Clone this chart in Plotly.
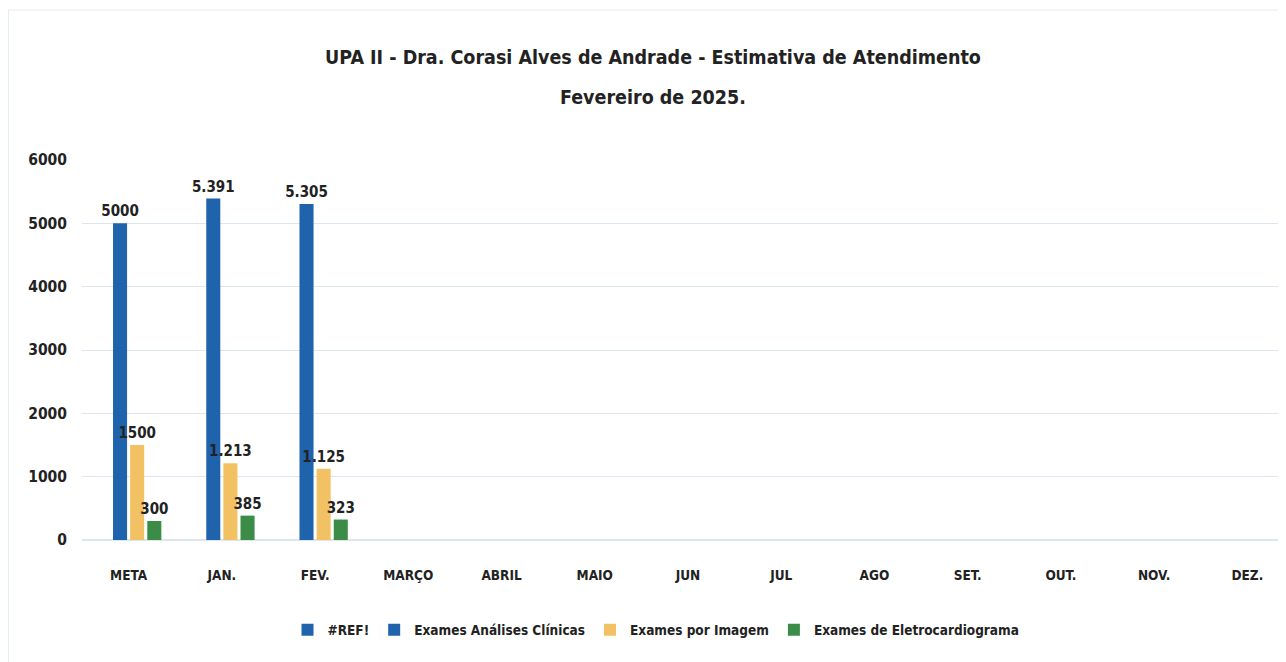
import plotly.graph_objects as go

categories = ["META", "JAN.", "FEV.", "MARÇO", "ABRIL", "MAIO", "JUN", "JUL", "AGO", "SET.", "OUT.", "NOV.", "DEZ."]
ref_values = [0, 0, 0, None, None, None, None, None, None, None, None, None, None]
analises = [5000, 5391, 5305, None, None, None, None, None, None, None, None, None, None]
analises_labels = ["5000", "5.391", "5.305"] + [""] * 10
imagem = [1500, 1213, 1125, None, None, None, None, None, None, None, None, None, None]
imagem_labels = ["1500", "1.213", "1.125"] + [""] * 10
eletro = [300, 385, 323, None, None, None, None, None, None, None, None, None, None]
eletro_labels = ["300", "385", "323"] + [""] * 10
y_ticks = [0, 1000, 2000, 3000, 4000, 5000, 6000]

FONT = "DejaVu Sans Condensed, Liberation Sans Narrow, Arial Narrow, sans-serif"
BLUE = "#1f63ad"
ORANGE = "#f2c163"
GREEN = "#3a8c46"
TXT = "#222222"

W, H = 1286, 662
L, T, PH = 74, 152, 380
PW = W - L
B = H - T - PH
PB = T + PH  # plot bottom in figure px

fig = go.Figure()
fig.add_trace(go.Bar(name="#REF!", x=categories, y=ref_values, marker=dict(color=BLUE, line=dict(width=0)),
                     hoverinfo="skip"))
fig.add_trace(go.Bar(name="Exames Análises Clínicas", x=categories, y=analises, text=analises_labels,
                     textposition="outside", marker=dict(color=BLUE, line=dict(width=0))))
fig.add_trace(go.Bar(name="Exames por Imagem", x=categories, y=imagem, text=imagem_labels,
                     textposition="outside", marker=dict(color=ORANGE, line=dict(width=0))))
fig.add_trace(go.Bar(name="Exames de Eletrocardiograma", x=categories, y=eletro, text=eletro_labels,
                     textposition="outside", marker=dict(color=GREEN, line=dict(width=0))))
fig.update_traces(textfont=dict(family=FONT, size=15, color=TXT, weight="bold"),
                  constraintext="none", cliponaxis=False)

fig.update_layout(
    width=W, height=H,
    margin=dict(l=L, r=0, t=T, b=B),
    paper_bgcolor="white", plot_bgcolor="white",
    barmode="group", bargap=0.265, bargroupgap=0.18,
    font=dict(family=FONT, color=TXT),
    title=dict(text="<b>UPA II - Dra. Corasi Alves de Andrade - Estimativa de Atendimento</b>",
               x=645 / W, xanchor="center", y=1 - 49 / H, yanchor="middle", yref="container",
               font=dict(family=FONT, size=19.5, color=TXT)),
    annotations=[dict(text="<b>Fevereiro de 2025.</b>", xref="paper", yref="paper",
                      x=(645 - L) / PW, y=(PB - 89) / PH, xanchor="center", yanchor="middle",
                      showarrow=False, font=dict(family=FONT, size=19.5, color=TXT))],
    legend=dict(orientation="h", x=648 / W, xanchor="center", xref="container", y=40 / H, yanchor="middle",
                yref="container", font=dict(family=FONT, size=13.5, color=TXT, weight="bold"),
                itemwidth=30, tracegroupgap=0, traceorder="normal"),
    showlegend=True,
)
fig.update_xaxes(showline=False, ticks="", ticklabelstandoff=25,
                 tickfont=dict(family=FONT, size=13.5, color=TXT, weight="bold"), showgrid=False)
fig.update_yaxes(range=[0, 6000], tickvals=y_ticks, showgrid=True, gridcolor="#dde5ee", gridwidth=1,
                 zeroline=True, zerolinecolor="#dde5ee", ticklabelstandoff=14,
                 tickfont=dict(family=FONT, size=15.5, color=TXT, weight="bold"), showline=False)
fig.add_shape(type="rect", xref="paper", yref="paper", x0=(0.5 - L) / PW, x1=(W + 4 - L) / PW,
              y0=(PB - H - 4) / PH, y1=(PB - 2) / PH, line=dict(color="#e3ecf3", width=1), layer="below")

fig.write_html("out.html")
